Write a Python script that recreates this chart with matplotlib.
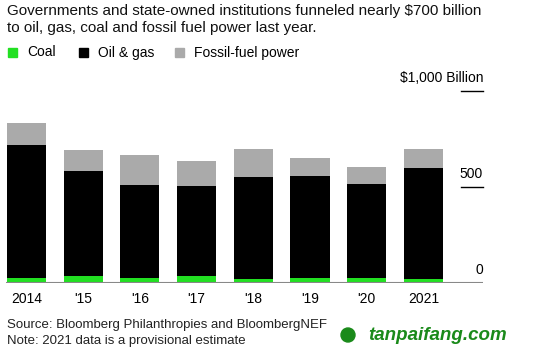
import matplotlib.pyplot as plt
from matplotlib.patches import Ellipse
import numpy as np

plt.rcParams['font.family'] = ['Liberation Sans', 'DejaVu Sans']

years = ["2014", "'15", "'16", "'17", "'18", "'19", "'20", "2021"]
coal = [25, 37, 25, 37, 19, 25, 25, 19]
oil_gas = [691, 545, 487, 465, 530, 529, 492, 577]
power = [115, 108, 152, 131, 146, 94, 84, 99]

green = "#22e022"
grey = "#aaaaaa"

fig = plt.figure(figsize=(5.45, 3.56), dpi=100)
ax = fig.add_axes([6 / 545, 73.3 / 356, 477 / 545, 191.7 / 356])

x = np.arange(len(years))
w = 0.69
ax.bar(x, coal, width=w, color=green)
ax.bar(x, oil_gas, width=w, bottom=coal, color="black")
ax.bar(x, power, width=w, bottom=np.add(coal, oil_gas), color=grey)

ax.set_xlim(-0.36, 8.05)
ax.set_ylim(0, 1000)
for s in ax.spines.values():
    s.set_visible(False)
ax.set_yticks([])
ax.set_xticks(x)
ax.set_xticklabels(years, fontsize=10)
ax.tick_params(axis="x", length=0, pad=7)

# baseline
ax.axhline(0, color="#888888", lw=1.5, zorder=5)

# right-hand value ticks
for v, lab in [(500, "500"), (1000, "$1,000 Billion")]:
    ax.plot([7.66, 8.05], [v, v], color="black", lw=1, clip_on=False)
    ax.text(8.05, v + 30, lab, ha="right", va="bottom", fontsize=10)
ax.text(8.05, 30, "0", ha="right", va="bottom", fontsize=10)

# title
fig.text(7 / 545, 1 - 4 / 356,
         "Governments and state-owned institutions funneled nearly $700 billion\n"
         "to oil, gas, coal and fossil fuel power last year.",
         ha="left", va="top", fontsize=11, linespacing=1.25, color="#111111")

# legend
for lx, col, lab in [(8, green, "Coal"), (79, "black", "Oil & gas"), (175, grey, "Fossil-fuel power")]:
    fig.patches.append(plt.Rectangle((lx / 545, 1 - 57 / 356), 9 / 545, 9 / 356,
                                     color=col, transform=fig.transFigure))
    fig.text((lx + 19) / 545, 1 - 52.5 / 356, lab, ha="left", va="center", fontsize=10)

# footer
fig.text(7 / 545, 1 - 325 / 356, "Source: Bloomberg Philanthropies and BloombergNEF",
         ha="left", va="center", fontsize=9.5, color="#222222")
fig.text(7 / 545, 1 - 341 / 356, "Note: 2021 data is a provisional estimate",
         ha="left", va="center", fontsize=9.5, color="#222222")
fig.text(368 / 545, 1 - 335 / 356, "tanpaifang.com", ha="left", va="center",
         fontsize=13.5, color="#1a8a1a", fontweight="bold", style="italic")
fig.patches.append(Ellipse((348 / 545, 1 - 335 / 356), 14 / 545, 14 / 356,
                           color="#1a8a1a", transform=fig.transFigure))

fig.savefig("out.png", dpi=100)
